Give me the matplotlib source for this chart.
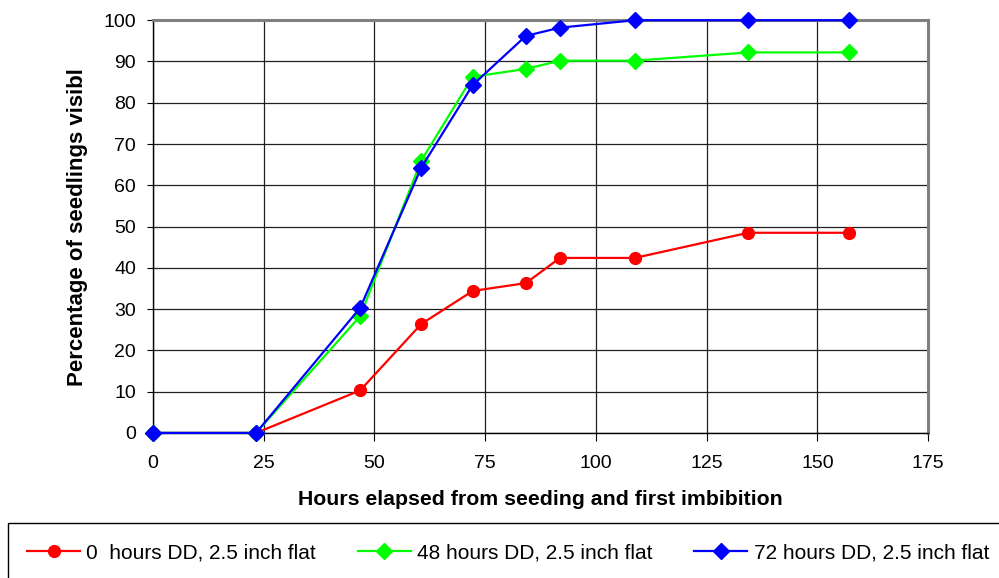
import matplotlib
matplotlib.use("Agg")
import matplotlib.pyplot as plt
from matplotlib.lines import Line2D
from matplotlib.patches import Rectangle

plt.rcParams['font.family'] = ['Liberation Sans', 'DejaVu Sans']

hours = [0, 23.3, 46.8, 60.6, 72.2, 84.2, 91.9, 108.8, 134.4, 157.2]
red_0h = [0, 0, 10.3, 26.4, 34.4, 36.3, 42.4, 42.4, 48.5, 48.5]
green_48h = [0, 0, 28.3, 66.0, 86.3, 88.2, 90.2, 90.2, 92.2, 92.2]
blue_72h = [0, 0, 30.3, 64.3, 84.3, 96.2, 98.2, 100, 100, 100]
labels = ["0  hours DD, 2.5 inch flat", "48 hours DD, 2.5 inch flat", "72 hours DD, 2.5 inch flat"]
xticks = [0, 25, 50, 75, 100, 125, 150, 175]
yticks = [0, 10, 20, 30, 40, 50, 60, 70, 80, 90, 100]

FS = 14
fig = plt.figure(figsize=(9.99, 5.78), dpi=100)
ax = fig.add_axes([0.153, 0.251, 0.776, 0.714])

lw = 1.6
ax.plot(hours, red_0h, color='#ff0000', lw=lw, marker='o', ms=8.5, clip_on=False, zorder=3)
ax.plot(hours, green_48h, color='#00ff00', lw=lw, marker='D', ms=8, clip_on=False, zorder=4)
ax.plot(hours, blue_72h, color='#0000ff', lw=lw, marker='D', ms=8, clip_on=False, zorder=5)

ax.set_xlim(0, 175)
ax.set_ylim(0, 100)
ax.set_xticks(xticks)
ax.set_yticks(yticks)
ax.grid(True, color='#202020', lw=0.9)
ax.set_axisbelow(True)
for s in ['top', 'right']:
    ax.spines[s].set_color('#808080')
    ax.spines[s].set_linewidth(2.2)
for s in ['left', 'bottom']:
    ax.spines[s].set_color('black')
    ax.spines[s].set_linewidth(1)
ax.tick_params(axis='x', direction='out', length=6, labelsize=FS, colors='black', pad=10)
ax.tick_params(axis='y', direction='out', length=4, labelsize=FS, colors='black', pad=8)

ax.set_xlabel("Hours elapsed from seeding and first imbibition", fontsize=15.3, fontweight='bold', labelpad=13)
ax.set_ylabel("Percentage of seedlings visibl", fontsize=16, fontweight='bold', labelpad=11)

# legend frame
fig.patches.append(Rectangle((8 / 999, -0.05), 1.2, 0.05 + 1 - 523 / 578, transform=fig.transFigure,
                             fill=False, edgecolor='black', lw=1.0, clip_on=False))

handles = [
    Line2D([], [], color='#ff0000', lw=lw, marker='o', ms=8.5),
    Line2D([], [], color='#00ff00', lw=lw, marker='D', ms=8),
    Line2D([], [], color='#0000ff', lw=lw, marker='D', ms=8),
]
leg = fig.legend(handles, labels, loc='center left', bbox_to_anchor=(27 / 999, 1 - 553 / 578),
                 ncol=3, fontsize=15, frameon=False,
                 handlelength=2.55, handletextpad=0.3, borderaxespad=0, borderpad=0, columnspacing=2.0)

fig.savefig("out.png", dpi=100)
